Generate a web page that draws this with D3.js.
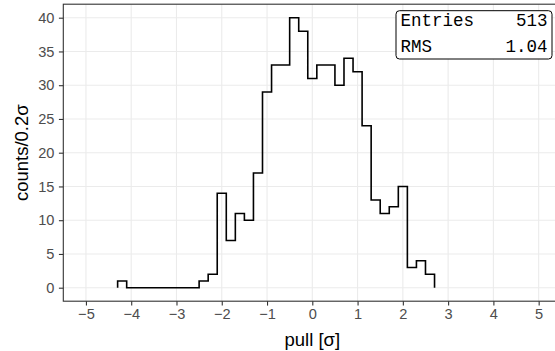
<!DOCTYPE html>
<html>
<head>
<meta charset="utf-8">
<script src="https://cdn.jsdelivr.net/npm/d3@7"></script>
<style>
  html, body { margin: 0; padding: 0; background: #fff; }
  svg { display: block; }
</style>
</head>
<body>
<svg id="chart" width="555" height="351"></svg>
<script>
// ---- data ----
const binLower = [-4.3, -4.1, -3.9, -3.7, -3.5, -3.3, -3.1, -2.9, -2.7, -2.5,
                  -2.3, -2.1, -1.9, -1.7, -1.5, -1.3, -1.1, -0.9, -0.7, -0.5,
                  -0.3, -0.1, 0.1, 0.3, 0.5, 0.7, 0.9, 1.1, 1.3, 1.5,
                  1.7, 1.9, 2.1, 2.3, 2.5];
const binWidth = 0.2;
const counts = [1, 0, 0, 0, 0, 0, 0, 0, 0, 1,
                2, 14, 7, 11, 10, 17, 29, 33, 33, 40,
                38, 31, 33, 33, 30, 34, 32, 24, 13, 11,
                12, 15, 3, 4, 2];
const xTicks = [-5, -4, -3, -2, -1, 0, 1, 2, 3, 4, 5];
const yTicks = [0, 5, 10, 15, 20, 25, 30, 35, 40];
const statLabels = ["Entries", "RMS"];
const statValues = ["513", "1.04"];
const xTitle = "pull [σ]";
const yTitle = "counts/0.2σ";

// ---- layout ----
const svg = d3.select("#chart");
const panel = { left: 63.3, right: 561.3, top: 4.2, bottom: 301.2 };
const x = d3.scaleLinear().domain([-5.5, 5.5]).range([panel.left, panel.right]);
const y = d3.scaleLinear().domain([-2, 42]).range([panel.bottom, panel.top]);

// panel background
svg.append("rect")
  .attr("x", panel.left).attr("y", panel.top)
  .attr("width", panel.right - panel.left).attr("height", panel.bottom - panel.top)
  .attr("fill", "#fff");

// grid
const grid = svg.append("g").attr("stroke", "#EBEBEB").attr("stroke-width", 1.1);
grid.selectAll("line.v").data(xTicks).join("line")
  .attr("x1", d => x(d)).attr("x2", d => x(d))
  .attr("y1", panel.top).attr("y2", panel.bottom);
grid.selectAll("line.h").data(yTicks).join("line")
  .attr("y1", d => y(d)).attr("y2", d => y(d))
  .attr("x1", panel.left).attr("x2", panel.right);

// histogram step outline
const pts = [[binLower[0], 0]];
binLower.forEach((lo, i) => {
  pts.push([lo, counts[i]]);
  pts.push([lo + binWidth, counts[i]]);
});
pts.push([binLower[binLower.length - 1] + binWidth, 0]);
svg.append("path")
  .attr("d", d3.line().x(d => x(d[0])).y(d => y(d[1]))(pts))
  .attr("fill", "none").attr("stroke", "#000").attr("stroke-width", 1.6)
  .attr("stroke-linejoin", "miter");

// panel border
svg.append("rect")
  .attr("x", panel.left).attr("y", panel.top)
  .attr("width", panel.right - panel.left).attr("height", panel.bottom - panel.top)
  .attr("fill", "none").attr("stroke", "#333333").attr("stroke-width", 1.1);

// axes
const xAxis = svg.append("g")
  .attr("transform", `translate(0,${panel.bottom})`)
  .call(d3.axisBottom(x).tickValues(xTicks).tickSize(4.4).tickPadding(3.5).tickSizeOuter(0));
const yAxis = svg.append("g")
  .attr("transform", `translate(${panel.left},0)`)
  .call(d3.axisLeft(y).tickValues(yTicks).tickSize(4.4).tickPadding(4.5).tickSizeOuter(0));
[xAxis, yAxis].forEach(ax => {
  ax.select(".domain").remove();
  ax.selectAll(".tick line").attr("stroke", "#333333").attr("stroke-width", 1.1);
  ax.selectAll(".tick text")
    .attr("fill", "#4D4D4D")
    .style("font-family", "'Liberation Sans', Arial, sans-serif")
    .style("font-size", "14.6px");
});

// axis titles
svg.append("text")
  .attr("x", x(0)).attr("y", 346)
  .attr("text-anchor", "middle")
  .style("font-family", "'Liberation Sans', Arial, sans-serif")
  .style("font-size", "18.5px")
  .attr("fill", "#000")
  .text(xTitle);
svg.append("text")
  .attr("transform", `translate(28.3,${(panel.top + panel.bottom) / 2}) rotate(-90)`)
  .attr("text-anchor", "middle")
  .style("font-family", "'Liberation Sans', Arial, sans-serif")
  .style("font-size", "18.5px")
  .attr("fill", "#000")
  .text(yTitle);

// stats box
const box = { x0: 396, x1: 552, y0: 10.7, y1: 59 };
svg.append("rect")
  .attr("x", box.x0).attr("y", box.y0)
  .attr("width", box.x1 - box.x0).attr("height", box.y1 - box.y0)
  .attr("rx", 3.5).attr("ry", 3.5)
  .attr("fill", "#fff").attr("stroke", "#000").attr("stroke-width", 1);
const rowBase = [26, 51.5];
statLabels.forEach((lab, i) => {
  svg.append("text")
    .attr("x", 400.5).attr("y", rowBase[i])
    .style("font-family", "'Liberation Mono', 'Courier New', monospace")
    .style("font-size", "17.5px")
    .attr("fill", "#000")
    .text(lab);
  svg.append("text")
    .attr("x", 547.5).attr("y", rowBase[i])
    .attr("text-anchor", "end")
    .style("font-family", "'Liberation Mono', 'Courier New', monospace")
    .style("font-size", "17.5px")
    .attr("fill", "#000")
    .text(statValues[i]);
});
</script>
</body>
</html>
